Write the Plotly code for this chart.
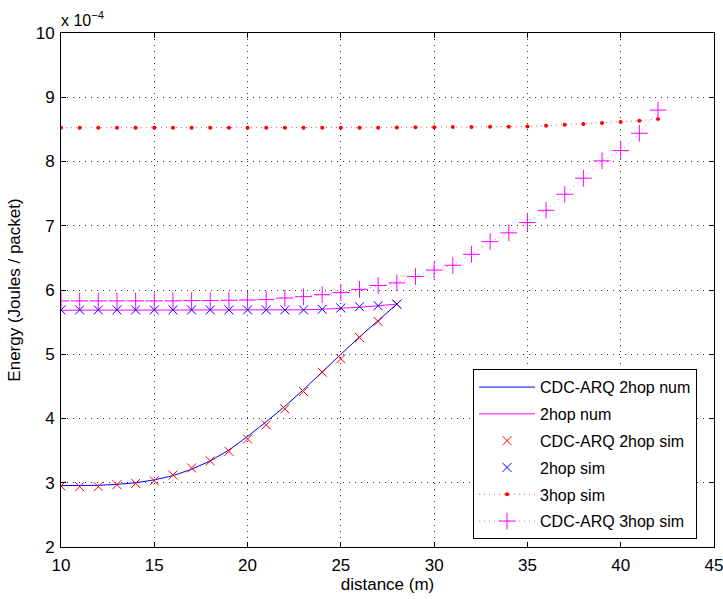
import plotly.graph_objects as go

# distance (m)
dist_2hop = list(range(10, 29))
dist_3hop = list(range(10, 43))

# energy values in units of 1e-4 J/packet
cdc_2hop_num = [2.955, 2.955, 2.96, 2.975, 3.0, 3.045, 3.11, 3.21, 3.34, 3.51,
                3.72, 3.95, 4.19, 4.45, 4.73, 5.0, 5.27, 5.53, 5.78]
hop2_num = [5.685, 5.685, 5.685, 5.685, 5.685, 5.685, 5.685, 5.685, 5.685, 5.685,
            5.686, 5.687, 5.688, 5.692, 5.70, 5.713, 5.732, 5.755, 5.78]
cdc_2hop_sim = [2.95, 2.94, 2.94, 2.97, 2.99, 3.03, 3.12, 3.23, 3.34, 3.49,
                3.68, 3.90, 4.15, 4.42, 4.72, 4.93, 5.26, 5.51, 5.78]
hop2_sim = [5.69, 5.69, 5.69, 5.69, 5.69, 5.69, 5.69, 5.69, 5.69, 5.69,
            5.69, 5.69, 5.69, 5.69, 5.70, 5.72, 5.74, 5.756, 5.78]
hop3_sim = [8.525, 8.525, 8.525, 8.525, 8.525, 8.525, 8.525, 8.525, 8.525, 8.525,
            8.525, 8.525, 8.525, 8.525, 8.525, 8.525, 8.525, 8.525, 8.53, 8.532,
            8.532, 8.537, 8.537, 8.542, 8.542, 8.545, 8.557, 8.573, 8.584, 8.60,
            8.615, 8.635, 8.662]
cdc_3hop_sim = [5.83, 5.83, 5.83, 5.83, 5.83, 5.83, 5.83, 5.835, 5.835, 5.84,
                5.844, 5.85, 5.875, 5.896, 5.927, 5.96, 6.01, 6.07, 6.11, 6.21,
                6.31, 6.385, 6.556, 6.752, 6.89, 7.05, 7.24, 7.49, 7.74, 8.01,
                8.17, 8.44, 8.80]

x_ticks = [10, 15, 20, 25, 30, 35, 40, 45]
y_ticks = [2, 3, 4, 5, 6, 7, 8, 9, 10]

FONT = "Liberation Sans, Arial, Helvetica, sans-serif"

fig = go.Figure()
fig.add_trace(go.Scatter(x=dist_2hop, y=cdc_2hop_num, mode="lines",
                         line=dict(color="#0000ff", width=1),
                         name="CDC-ARQ 2hop num", legendgroup="a"))
fig.add_trace(go.Scatter(x=dist_2hop, y=hop2_num, mode="lines",
                         line=dict(color="#ff00ff", width=1),
                         name="2hop num", legendgroup="b"))
fig.add_trace(go.Scatter(x=dist_2hop, y=cdc_2hop_sim, mode="markers",
                         marker=dict(symbol="x-thin", size=9, color="#ff0000",
                                     line=dict(color="#ff0000", width=1)),
                         name="CDC-ARQ 2hop sim", legendgroup="c"))
fig.add_trace(go.Scatter(x=dist_2hop, y=hop2_sim, mode="markers",
                         marker=dict(symbol="x-thin", size=9, color="#0000ff",
                                     line=dict(color="#0000ff", width=1)),
                         name="2hop sim", legendgroup="d"))
fig.add_trace(go.Scatter(x=dist_3hop, y=hop3_sim, mode="lines+markers",
                         line=dict(color="#ff5555", width=1, dash="1px,4px"),
                         marker=dict(symbol="circle", size=4, color="#ff0000"),
                         name="3hop sim", legendgroup="e"))
fig.add_trace(go.Scatter(x=dist_3hop, y=cdc_3hop_sim, mode="lines+markers",
                         line=dict(color="#ff55ff", width=1, dash="1px,4px"),
                         marker=dict(symbol="cross-thin", size=12, color="#ff00ff",
                                     line=dict(color="#ff00ff", width=1)),
                         name="CDC-ARQ 3hop sim", legendgroup="f"))

axis_common = dict(
    showline=True, linecolor="black", linewidth=1, mirror="ticks",
    ticks="inside", ticklen=5, tickcolor="black",
    showgrid=True, gridcolor="#333333", gridwidth=1, griddash="1px,5px",
    zeroline=False, tickfont=dict(family=FONT, size=17, color="black"),
    ticklabeloverflow="allow",
)

fig.update_xaxes(range=[10, 45], tickvals=x_ticks, ticklabelstandoff=3,
                 title=dict(text="distance (m)", font=dict(family=FONT, size=17, color="black"),
                            standoff=1),
                 **axis_common)
fig.update_yaxes(range=[2, 10], tickvals=y_ticks, ticklabelstandoff=2,
                 title=dict(text="Energy (Joules / packet)",
                            font=dict(family=FONT, size=17, color="black"), standoff=10),
                 **axis_common)

fig.add_annotation(x=0, y=1, xref="paper", yref="paper", xanchor="left", yanchor="bottom",
                   text="x 10<sup>\u22124</sup>", showarrow=False, yshift=2, xshift=-2,
                   font=dict(family=FONT, size=16, color="black"))

fig.update_layout(
    width=723, height=599,
    margin=dict(l=61, r=9, t=33, b=52, autoexpand=False),
    paper_bgcolor="white", plot_bgcolor="white",
    font=dict(family=FONT, color="black"),
    legend=dict(x=0.631, y=0.346, xanchor="left", yanchor="top",
                bgcolor="white", bordercolor="black", borderwidth=1,
                font=dict(family=FONT, size=16, color="black"),
                tracegroupgap=3, itemwidth=56),
    showlegend=True,
)

fig.write_html("out.html", config={"displayModeBar": False},
               post_script="document.body.style.margin='0';")
